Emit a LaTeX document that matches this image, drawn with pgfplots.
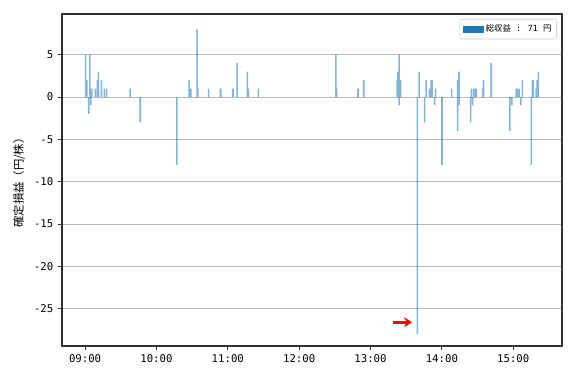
\documentclass[border=0pt]{standalone}
\usepackage{pgfplots}
\pgfplotsset{compat=1.18}
\usetikzlibrary{arrows.meta}
\usepackage{fontspec}
\setmainfont{DejaVu Sans Mono}
\newfontfamily\jp{Noto Sans CJK JP}
\definecolor{c0}{HTML}{1F77B4}
\pgfplotstableread{
x y
540.4 5
541.4 2
541.6 1
543.1 -2
544.0 5
544.8 -1
545.6 1
548.6 1
550.3 2
550.5 1
551.2 3
551.4 1
553.7 2
553.9 1
556.2 1
558.2 1
577.8 1
586.4 -3
617.2 -8
627.5 2
628.5 1
628.9 1
634.2 8
634.9 1
643.8 1
653.7 1
654.1 1
664.0 1
664.4 1
667.8 4
676.5 3
677.3 1
685.7 1
750.8 5
751.4 1
769.3 1
769.7 1
774.3 2
802.4 2
803.1 3
804.0 5
804.0 -1
805.1 1
805.3 2
819.4 -28
820.8 3
825.5 -3
826.7 2
829.5 1
830.9 2
831.3 1
831.7 2
833.9 -1
834.7 1
840.1 -8
848.2 1
853.2 2
853.2 -4
854.4 3
854.4 -1
864.1 -3
864.9 1
865.8 -1
867.0 1
868.0 1
869.0 1
874.2 1
875.0 2
881.5 4
897.2 -4
898.8 -1
902.5 1
903.3 1
904.1 1
905.0 1
906.4 -1
907.7 2
915.3 -8
916.2 2
916.6 2
919.2 1
920.0 2
921.2 3
}\datatable
\begin{document}
\begin{tikzpicture}
\begin{axis}[
  name=ax,
  scale only axis,
  width=375pt, height=249pt,
  xmin=520.6, xmax=941,
  ymin=-29.4, ymax=9.8,
  xtick={540,600,660,720,780,840,900},
  xticklabels={09:00,10:00,11:00,12:00,13:00,14:00,15:00},
  ytick={-25,-20,-15,-10,-5,0,5},
  /pgf/number format/assume math mode=true,
  tick label style={font=\fontsize{8}{9.5}\selectfont},
  ymajorgrids, grid style={gray!55, line width=0.6pt},
  tick align=outside, xtick pos=bottom, ytick pos=left,
  major tick length=3pt,
  axis line style={black!80, line width=0.8pt},
  every tick/.style={black!80, line width=0.6pt},
  ylabel={\jp 確定損益（円/株）},
  ylabel style={font=\fontsize{8.5}{10}\selectfont},
  legend style={at={(0.99,0.985)}, anchor=north east, draw=gray!40, rounded corners=1.5pt,
    font=\fontsize{6.3}{7.5}\selectfont, inner sep=2pt},
  legend cell align=left,
]
\addplot[ybar, bar width=1.3, bar shift=0pt, draw=none, fill=c0, fill opacity=0.55, forget plot] table[x=x,y=y] {\datatable};
\addlegendimage{legend image code/.code={\fill[c0, sharp corners] (0pt,-2.3pt) rectangle (15pt,2.3pt);}}
\addlegendentry{{\jp 総収益} : 71 {\jp 円}}
\draw[-{Stealth[length=6pt,width=7.5pt]}, red, line width=2pt] (axis cs:799.3,-26.6) -- (axis cs:815,-26.6);
\end{axis}
\pgfresetboundingbox
\path[use as bounding box] ([shift={(-46.5pt,-28.5pt)}]ax.south west) rectangle ([shift={(10.5pt,10.5pt)}]ax.north east);
\end{tikzpicture}
\end{document}
